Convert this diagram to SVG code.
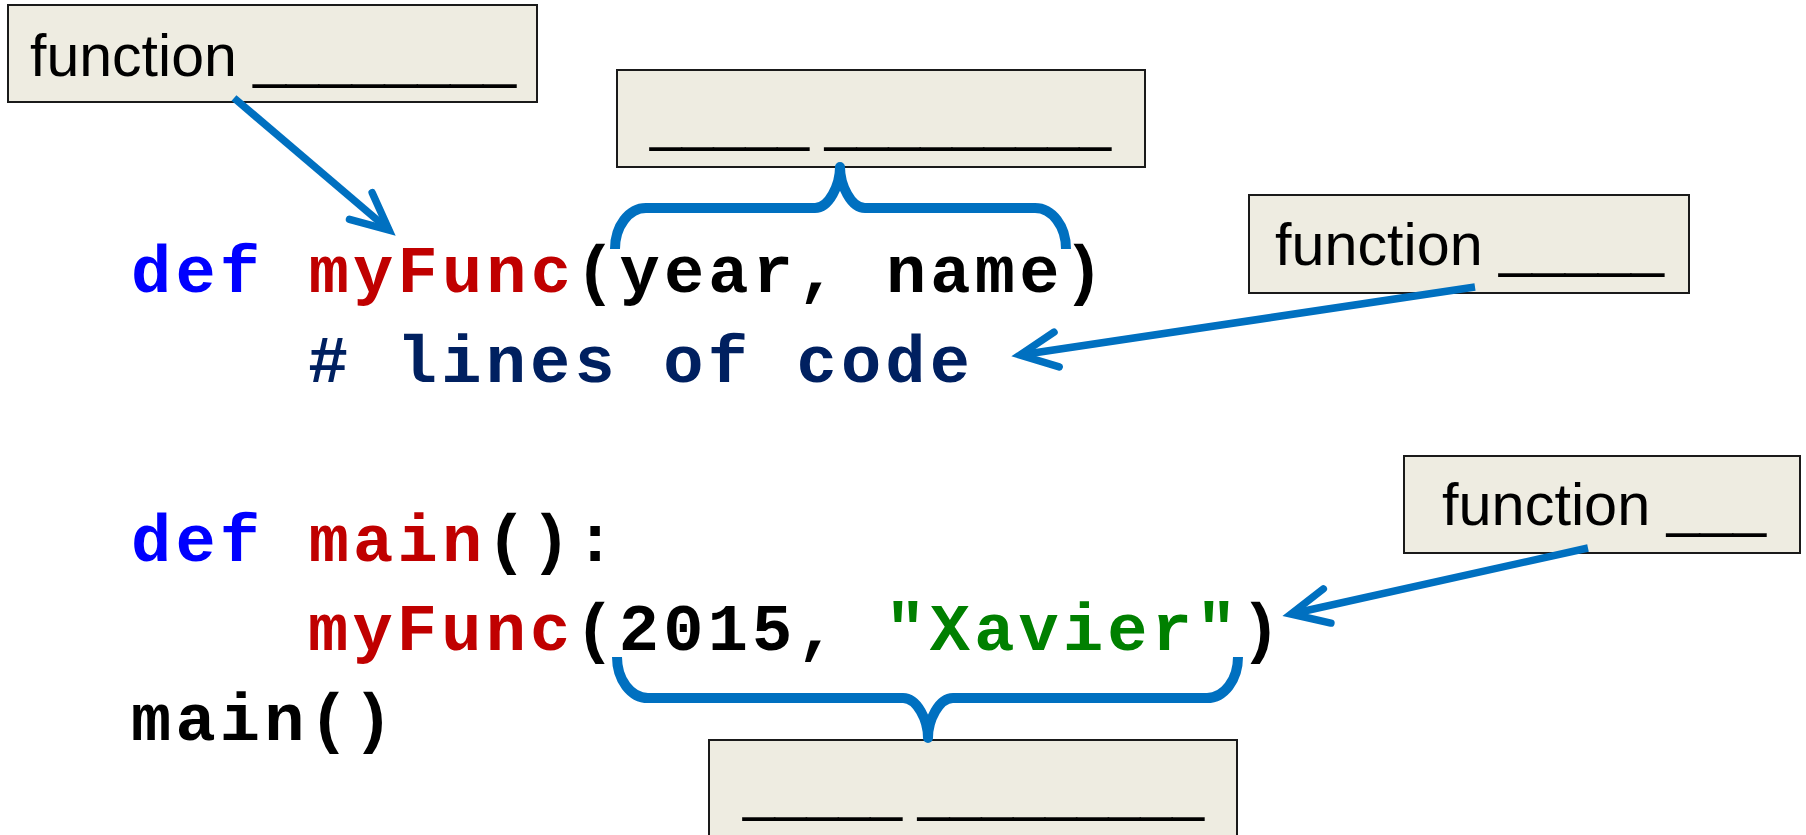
<svg xmlns="http://www.w3.org/2000/svg" width="1806" height="835" viewBox="0 0 1806 835">
  <style>
    .box { fill: #EEECE1; stroke: #1a1a1a; stroke-width: 2; }
    .lbl { font-family: "Liberation Sans", Arial, sans-serif; font-size: 60px; fill: #000; }
    .code { font-family: "Liberation Mono", "Courier New", monospace; font-size: 67px; letter-spacing: 4.2px; font-weight: bold; white-space: pre; }
    .kw { fill: #0000FF; }
    .fn { fill: #C00000; }
    .tx { fill: #000000; }
    .cm { fill: #002060; }
    .st { fill: #008000; }
    .conn { fill: none; stroke: #0070C0; stroke-width: 7.5; stroke-linecap: butt; }
    .brace { fill: none; stroke: #0070C0; stroke-width: 10; stroke-linecap: butt; stroke-linejoin: round; }
  </style>
  <defs>
    <marker id="arr" markerUnits="userSpaceOnUse" orient="auto" markerWidth="60" markerHeight="60" refX="0" refY="0" viewBox="-50 -30 60 60" overflow="visible">
      <path d="M-37,-17.5 L0,0 L-37,17.5" fill="none" stroke="#0070C0" stroke-width="7.5" stroke-linecap="round" stroke-linejoin="miter"/>
    </marker>
  </defs>

  <rect x="0" y="0" width="1806" height="835" fill="#FFFFFF"/>

  <g id="code">
    <text class="code" x="131" y="292"><tspan class="kw">def</tspan><tspan class="tx"> </tspan><tspan class="fn">myFunc</tspan><tspan class="tx">(year, name)</tspan></text>
    <text class="code cm" x="308" y="382"># lines of code</text>
    <text class="code" x="131" y="561"><tspan class="kw">def</tspan><tspan class="tx"> </tspan><tspan class="fn">main</tspan><tspan class="tx">():</tspan></text>
    <text class="code" x="308" y="650"><tspan class="fn">myFunc</tspan><tspan class="tx">(2015, </tspan><tspan class="st">"Xavier"</tspan><tspan class="tx">)</tspan></text>
    <text class="code tx" x="131" y="740">main()</text>
  </g>

  <g id="box-function-name">
    <rect class="box" x="8" y="5" width="529" height="97"/>
    <text class="lbl" x="30" y="76" textLength="486" lengthAdjust="spacingAndGlyphs">function ________</text>
  </g>
  <g id="box-formal-parameters">
    <rect class="box" x="617" y="70" width="528" height="97"/>
    <text class="lbl" x="650" y="139" textLength="461" lengthAdjust="spacingAndGlyphs">_____ _________</text>
  </g>
  <g id="box-function-body">
    <rect class="box" x="1249" y="195" width="440" height="98"/>
    <text class="lbl" x="1275" y="265" textLength="389" lengthAdjust="spacingAndGlyphs">function _____</text>
  </g>
  <g id="box-function-call">
    <rect class="box" x="1404" y="456" width="396" height="97"/>
    <text class="lbl" x="1442" y="525" textLength="324" lengthAdjust="spacingAndGlyphs">function ___</text>
  </g>
  <g id="box-actual-arguments">
    <rect class="box" x="709" y="740" width="528" height="110"/>
    <text class="lbl" x="743" y="809" textLength="461" lengthAdjust="spacingAndGlyphs">_____ _________</text>
  </g>

  <g id="connectors">
    <line class="conn" x1="234" y1="98" x2="389" y2="230" marker-end="url(#arr)"/>
    <line class="conn" x1="1475" y1="287" x2="1020" y2="355" marker-end="url(#arr)"/>
    <line class="conn" x1="1588" y1="548" x2="1291" y2="614" marker-end="url(#arr)"/>
    <path class="brace" d="M615,249 C615,226 629,208 646,208 L815,208 C829,208 840,185 840,167 C840,185 851,208 865,208 L1035,208 C1052,208 1066,226 1066,249"/>
    <path class="brace" d="M617,657 C617,680 631,698 648,698 L903,698 C917,698 928,720 928,738 C928,720 939,698 953,698 L1207,698 C1224,698 1238,680 1238,657"/>
  </g>
</svg>
